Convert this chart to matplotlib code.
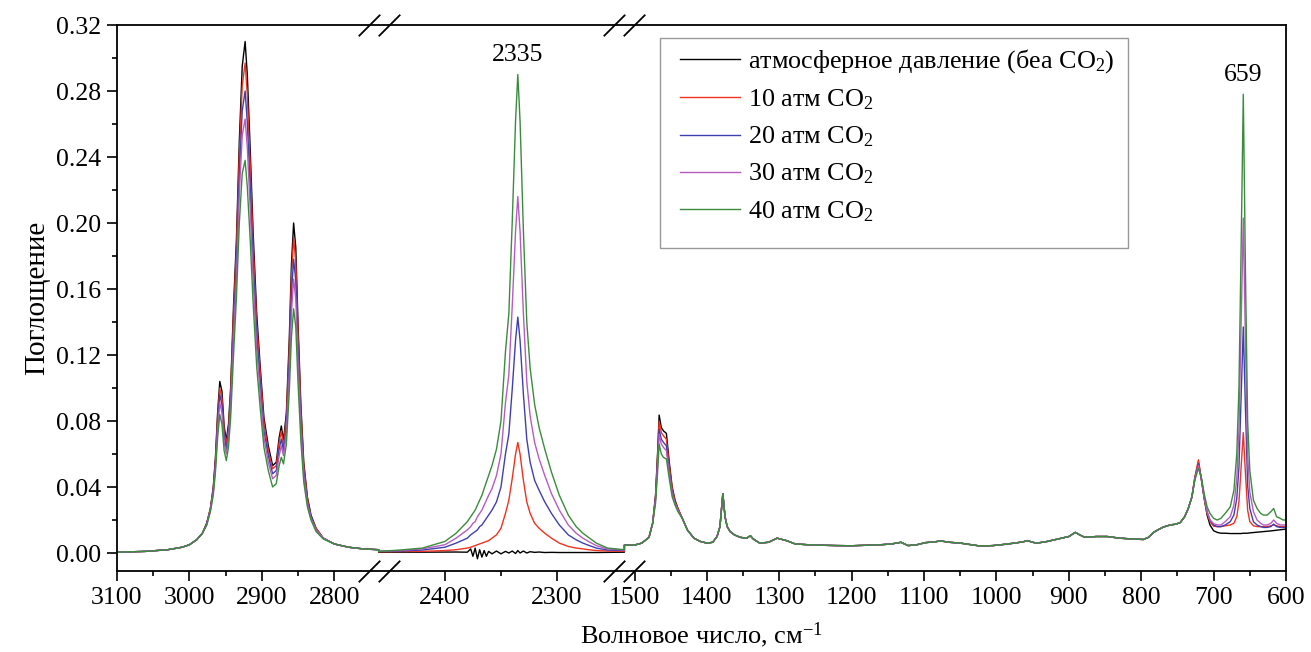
import numpy as np
import matplotlib
matplotlib.use('Agg')
import matplotlib.pyplot as plt
import matplotlib.transforms as mtransforms
from matplotlib.patches import Rectangle
from matplotlib.ticker import FixedLocator, FixedFormatter, NullFormatter

plt.rcParams['font.family'] = ['Liberation Serif', 'DejaVu Serif']
plt.rcParams['mathtext.fontset'] = 'custom'
plt.rcParams['mathtext.rm'] = 'Liberation Serif'
plt.rcParams['mathtext.it'] = 'Liberation Serif:italic'

# ---- data ----
# segment 1: C-H stretching region
wn1 = [3100, 3060, 3030, 3010, 3000, 2990, 2982, 2976, 2971, 2967, 2964, 2961, 2958, 2955,
       2952, 2949, 2946, 2943, 2939, 2935, 2931, 2927, 2923, 2920, 2916, 2912, 2907, 2902,
       2897, 2891, 2885, 2880, 2876, 2873, 2870, 2866, 2862, 2859, 2856, 2853, 2850, 2846,
       2842, 2837, 2832, 2825, 2815, 2800, 2780, 2760, 2738.5]
ab1_atm = [.0005, .001, .002, .0035, .005, .008, .012, .018, .027, .040, .058, .085, .104, .098,
           .077, .068, .078, .100, .150, .190, .250, .295, .310, .290, .245, .195, .145, .112,
           .082, .065, .053, .055, .070, .077, .068, .085, .130, .175, .200, .185, .140, .090,
           .055, .034, .023, .015, .009, .0055, .0035, .0025, .002]
ab1_10 = [.0005, .001, .002, .0035, .005, .008, .012, .018, .027, .039, .056, .082, .100, .094,
          .074, .066, .075, .097, .145, .184, .241, .283, .297, .278, .235, .187, .139, .108,
          .079, .062, .051, .053, .067, .074, .065, .082, .124, .167, .191, .176, .134, .086,
          .053, .033, .022, .015, .009, .0055, .0035, .0025, .002]
ab1_20 = [.0005, .001, .002, .0035, .005, .008, .012, .018, .026, .038, .054, .079, .096, .090,
          .071, .063, .072, .092, .137, .175, .229, .268, .280, .261, .222, .177, .132, .102,
          .074, .059, .048, .050, .063, .069, .062, .077, .117, .157, .178, .165, .125, .081,
          .050, .031, .022, .014, .009, .0055, .0035, .0025, .002]
ab1_30 = [.0005, .001, .002, .0035, .005, .008, .012, .017, .026, .037, .052, .075, .091, .085,
          .067, .060, .069, .088, .131, .167, .218, .253, .263, .246, .209, .167, .124, .096,
          .070, .055, .045, .047, .059, .065, .059, .073, .109, .146, .166, .154, .117, .076,
          .047, .030, .021, .014, .009, .0055, .0035, .0025, .002]
ab1_40 = [.0005, .001, .002, .0035, .005, .008, .012, .017, .025, .035, .049, .070, .084, .078,
          .062, .056, .064, .082, .120, .155, .200, .230, .238, .222, .190, .152, .113, .087,
          .064, .050, .040, .042, .053, .058, .054, .066, .098, .131, .148, .137, .104, .068,
          .043, .028, .020, .013, .0085, .0055, .0035, .0025, .002]

# segment 2: CO2 band
wn2 = [2459, 2440, 2420, 2400, 2390, 2380, 2377, 2375, 2373, 2371, 2369, 2367, 2365, 2363,
       2361, 2358, 2354, 2350, 2346, 2343, 2340, 2337, 2335, 2333, 2330, 2327, 2324, 2320,
       2316, 2311, 2305, 2298, 2290, 2283, 2277, 2272, 2265, 2255, 2240]
ab2_atm = [.0005, .0005, .0005, .0006, .0006, .0005, .0025, -.002, .003, -.0035, .002, -.0025,
           .0015, -.002, .001, -.0005, .0012, -.0005, .001, .0, .0012, -.0003, .0015, .0, .0012,
           .0, .0008, .0004, .0006, .0003, .0004, .0003, .0003, .0003, .0003, .0003, .0003,
           .0004, .0005]
ab2_10 = [.0008, .0009, .001, .0015, .002, .003, .0035, .004, .0045, .005, .0055, .006, .0065,
          .007, .0075, .009, .011, .015, .024, .032, .045, .060, .067, .060, .044, .031, .024,
          .018, .015, .012, .009, .006, .004, .003, .0025, .002, .0015, .0012, .001]
ab2_20 = [.001, .0012, .0018, .0035, .006, .009, .011, .012, .013, .014, .016, .017, .019,
          .021, .023, .026, .031, .040, .060, .072, .099, .129, .143, .129, .096, .069, .055,
          .044, .038, .031, .024, .017, .011, .008, .006, .0047, .003, .0018, .0015]
ab2_30 = [.001, .0015, .0025, .005, .009, .014, .016, .018, .019, .022, .024, .026, .029,
          .032, .035, .039, .047, .060, .091, .108, .149, .195, .216, .195, .145, .104, .083,
          .067, .057, .047, .036, .026, .017, .012, .009, .007, .0045, .0025, .0018]
ab2_40 = [.001, .0018, .003, .007, .012, .019, .022, .024, .026, .029, .032, .035, .039,
          .043, .047, .053, .063, .080, .122, .145, .200, .262, .290, .262, .195, .140, .112,
          .090, .076, .063, .049, .035, .023, .016, .012, .0095, .006, .003, .002]

# segment 3a: 1465 band
wn3a = [1514, 1500, 1490, 1480, 1475, 1471, 1468, 1466, 1463, 1460, 1456, 1452, 1448, 1444, 1440]
ab3a_atm = [.0048, .0048, .006, .0095, .018, .035, .062, .0836, .076, .074, .0725, .055, .040, .032, .027]
ab3a_10 = [.0048, .0048, .006, .0095, .018, .034, .060, .080, .073, .071, .069, .053, .039, .031, .027]
ab3a_20 = [.0048, .0048, .006, .0095, .018, .033, .057, .075, .069, .067, .065, .050, .037, .030, .026]
ab3a_30 = [.0048, .0048, .006, .0095, .018, .032, .055, .072, .066, .064, .062, .048, .036, .030, .026]
ab3a_40 = [.0048, .0048, .006, .0095, .018, .030, .050, .066, .060, .058, .057, .045, .034, .029, .025]

# segment 3b: curves coincide
wn3b = [1434, 1427, 1418, 1409, 1400, 1392, 1386, 1382, 1378, 1375, 1372, 1368, 1362, 1354,
        1345, 1340, 1336, 1327, 1315, 1303, 1290, 1278, 1260, 1240, 1220, 1200, 1180, 1160,
        1145, 1132, 1122, 1110, 1098, 1085, 1077, 1065, 1050, 1035, 1022, 1005, 990, 975,
        963, 957, 950, 944, 930, 912, 900, 891, 885, 878, 862, 847, 830, 812, 797, 790,
        783, 775, 769, 760, 752, 746, 740, 735, 730]
ab3b = [.021, .014, .009, .007, .006, .0065, .010, .016, .036, .022, .016, .013, .011, .0095,
        .009, .0105, .0085, .006, .0065, .009, .0075, .0055, .005, .0047, .0045, .0044, .0047,
        .005, .0055, .0065, .0045, .005, .0063, .0068, .0073, .0065, .006, .005, .0042, .0045,
        .0052, .006, .0068, .0075, .0065, .006, .007, .0088, .010, .0125, .011, .0095, .010,
        .010, .009, .0085, .0082, .0095, .0125, .0145, .0158, .017, .0175, .0185, .022, .027, .034]

# segment 3c: 721 and 659 bands
wn3c = [726, 721, 717, 713, 709, 705, 700, 695, 690, 684, 677, 672, 668, 665, 662, 659, 656,
        653, 650, 645, 640, 635, 631, 626, 621, 617, 613, 608, 604, 600]
ab3c_atm = [.045, .055, .045, .033, .023, .017, .0135, .0125, .012, .012, .0118, .0118, .0118,
            .0118, .0118, .012, .012, .012, .0122, .0124, .0126, .0128, .013, .0132, .0134,
            .0136, .0138, .014, .0142, .0145]
ab3c_10 = [.046, .0565, .045, .033, .024, .019, .0163, .016, .016, .0165, .017, .018, .022, .031,
           .052, .073, .048, .026, .019, .0165, .016, .016, .016, .016, .0165, .017, .0165,
           .016, .016, .016]
ab3c_20 = [.045, .054, .045, .034, .025, .020, .017, .016, .016, .017, .019, .023, .033, .052,
           .094, .137, .087, .041, .027, .019, .017, .016, .0155, .0155, .016, .0175, .016,
           .0155, .0155, .0155]
ab3c_30 = [.045, .053, .045, .034, .025, .020, .0178, .017, .017, .019, .022, .029, .045, .074,
           .138, .203, .127, .059, .037, .025, .020, .018, .017, .017, .018, .020, .018, .017,
           .017, .017]
ab3c_40 = [.044, .0513, .046, .036, .028, .024, .021, .020, .021, .024, .028, .038, .060, .100,
           .185, .278, .170, .080, .050, .032, .027, .024, .023, .023, .025, .027, .022, .021,
           .020, .020]

labels = ['атмосферное давление (беа CO$_2$)', '10 атм CO$_2$', '20 атм CO$_2$',
          '30 атм CO$_2$', '40 атм CO$_2$']
colors = ['#000000', '#f0321e', '#3f3fb0', '#b65cc0', '#3a8c3c']

x_major = [3100, 3000, 2900, 2800, 2400, 2300, 1500, 1400, 1300, 1200, 1100, 1000, 900, 800, 700, 600]
x_minor = [3050, 2950, 2850, 2350, 1450, 1350, 1250, 1150, 1050, 950, 850, 750, 650]
y_major = [0.00, 0.04, 0.08, 0.12, 0.16, 0.20, 0.24, 0.28, 0.32]

# ---- broken x axis as a piecewise-linear scale ----
seg1 = (3100, 2738.5)
seg2 = (2459, 2240)
seg3 = (1514, 600)
zoom2 = 1.55   # middle segment is stretched
eps = 0.01
w1 = seg1[0] - seg1[1]
w2 = (seg2[0] - seg2[1]) * zoom2
w3 = seg3[0] - seg3[1]
knot_x = np.array([seg3[1], seg3[0], seg2[1], seg2[0], seg1[1], seg1[0]], dtype=float)
knot_u = -np.array([w1 + w2 + w3 + 2 * eps, w1 + w2 + 2 * eps, w1 + w2 + eps, w1 + eps, w1, 0.0])


def fwd(x):
    return np.interp(x, knot_x, knot_u)


def inv(u):
    return np.interp(u, knot_u, knot_x)


fig = plt.figure(figsize=(13.11, 6.52), dpi=100)
ax = fig.add_axes([117 / 1311, 1 - 571 / 652, 1169 / 1311, 546 / 652])
ax.set_xscale('function', functions=(fwd, inv))

series = [
    (ab1_atm, ab2_atm, ab3a_atm, ab3c_atm),
    (ab1_10, ab2_10, ab3a_10, ab3c_10),
    (ab1_20, ab2_20, ab3a_20, ab3c_20),
    (ab1_30, ab2_30, ab3a_30, ab3c_30),
    (ab1_40, ab2_40, ab3a_40, ab3c_40),
]
wn_all = wn1 + wn2 + wn3a + wn3b + wn3c
for (a1, a2, a3a, a3c), lab, col in zip(series, labels, colors):
    ab = a1 + a2 + a3a + ab3b + a3c
    ax.plot(wn_all, ab, color=col, lw=1.0, label=lab)

ax.set_xlim(3100, 600)
ax.set_ylim(-0.0109, 0.32)

ax.xaxis.set_major_locator(FixedLocator(x_major))
ax.xaxis.set_major_formatter(FixedFormatter([str(v) for v in x_major]))
ax.xaxis.set_minor_locator(FixedLocator(x_minor))
ax.xaxis.set_minor_formatter(NullFormatter())
ax.yaxis.set_major_locator(FixedLocator(y_major))
ax.yaxis.set_major_formatter(FixedFormatter(['%.2f' % v for v in y_major]))
ax.yaxis.set_minor_locator(FixedLocator(np.arange(0.02, 0.32, 0.04)))

ax.tick_params(which='major', direction='out', length=7.5, width=1.2, labelsize=18.5, pad=4)
ax.tick_params(which='minor', direction='out', length=3.8, width=1.2)
ax.tick_params(top=False, right=False, which='both')
for sp in ax.spines.values():
    sp.set_linewidth(1.3)

ax.set_xlabel('Волновое число, см$^{-1}$', fontsize=19, labelpad=8)
ax.set_ylabel('Поглощение', fontsize=21, labelpad=4)

ax.text(2335, 0.302, '2335', ha='center', va='center', fontsize=18.5)
ax.text(659, 0.29, '659', ha='center', va='center', fontsize=18.5)

# break marks on top and bottom spines
slash = [(-1, -1), (1, 1)]
for xb in (seg1[1], seg2[1]):
    for y in (0, 1):
        base = mtransforms.blended_transform_factory(ax.transData, ax.transAxes)
        for dx in (-7.2, 7.2):
            tr = mtransforms.offset_copy(base, fig=fig, x=dx, y=0, units='points')
            ax.plot([xb], [y], marker=slash, ms=15.5, mew=1.3, color='k',
                    transform=tr, clip_on=False)

# legend: entries without frame, frame drawn as a separate box
leg = ax.legend(loc='upper left', bbox_to_anchor=(0.474, 0.976), borderaxespad=0,
                fontsize=18.8, frameon=False, handlelength=2.3,
                handletextpad=0.3, labelspacing=0.48, borderpad=0.35)
ax.add_patch(Rectangle((0.4645, 0.5916), 0.4003, 0.3846, transform=ax.transAxes,
                       fill=False, edgecolor='#999999', lw=1.0, zorder=4))

fig.savefig('out.png', dpi=100)
